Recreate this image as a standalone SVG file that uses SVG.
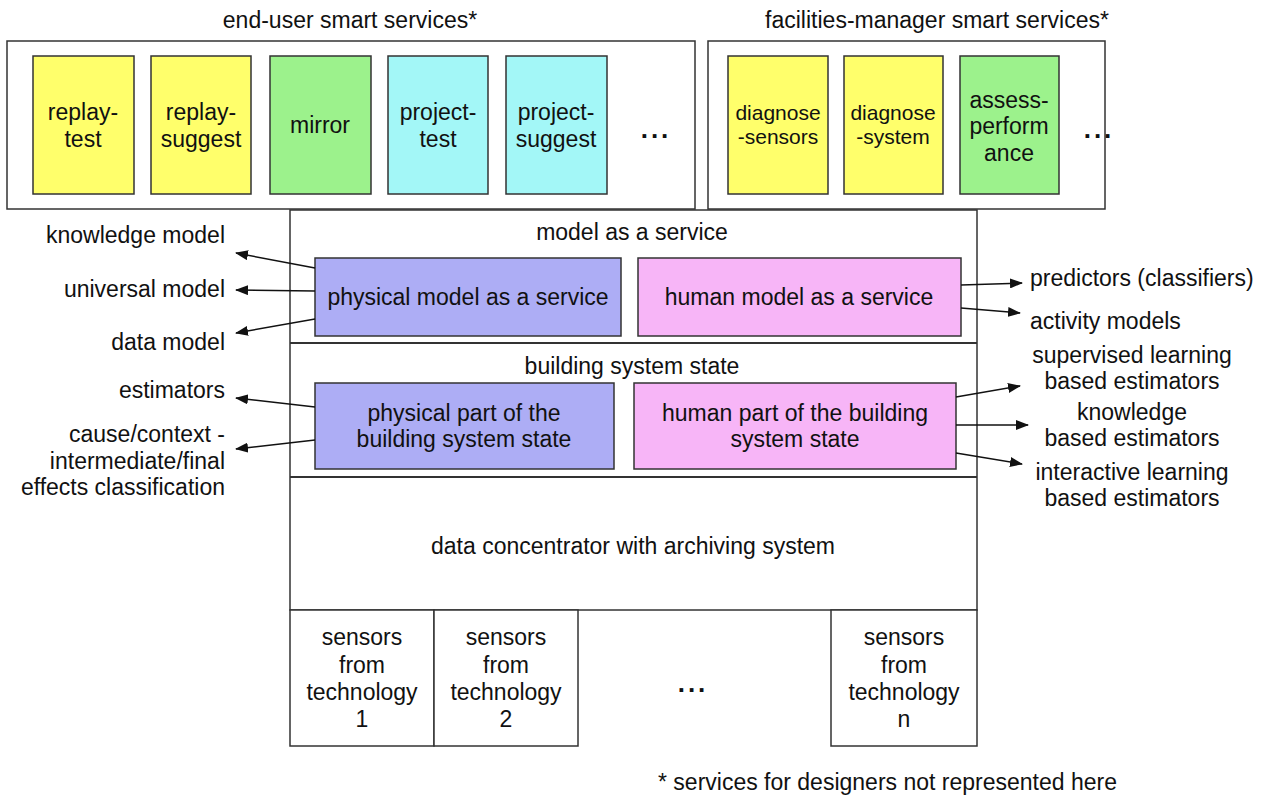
<svg xmlns="http://www.w3.org/2000/svg" width="1270" height="797" viewBox="0 0 1270 797">
<defs>
<marker id="ah" viewBox="0 0 13 10" refX="12" refY="5" markerWidth="13" markerHeight="10" markerUnits="userSpaceOnUse" orient="auto">
<path d="M0,0 L13,5 L0,10 z" fill="#111"/>
</marker>
<style>
text{font-family:"Liberation Sans",Arial,Helvetica,sans-serif;font-size:23px;fill:#111}
.c{text-anchor:middle}
.r{text-anchor:end}
.sm{font-size:21px}
.dots{font-size:26px;font-weight:bold;letter-spacing:3px}
.frame{fill:#fff;stroke:#333;stroke-width:1.5}
.svc{stroke:#333;stroke-width:1.5}
.yel{fill:#FFFF6B}
.grn{fill:#9CF28C}
.cyn{fill:#A3F7F7}
.lav{fill:#ADADF5}
.pnk{fill:#F7B5F7}
.conn{stroke:#111;stroke-width:1.5;fill:none;marker-end:url(#ah)}
.div{stroke:#333;stroke-width:2}
</style>
</defs>
<rect width="1270" height="797" fill="#fff"/>

<g id="end-user-services">
<text class="c" x="350" y="28">end-user smart services*</text>
<rect class="frame" x="7" y="41" width="688" height="168"/>
<g id="replay-test"><rect class="svc yel" x="33" y="56" width="101" height="138"/><text class="c" x="83" y="120">replay-</text><text class="c" x="83" y="147">test</text></g>
<g id="replay-suggest"><rect class="svc yel" x="151" y="56" width="100" height="138"/><text class="c" x="201" y="120">replay-</text><text class="c" x="201" y="147">suggest</text></g>
<g id="mirror"><rect class="svc grn" x="270" y="56" width="101" height="138"/><text class="c" x="320" y="133">mirror</text></g>
<g id="project-test"><rect class="svc cyn" x="388" y="56" width="100" height="138"/><text class="c" x="438" y="120">project-</text><text class="c" x="438" y="147">test</text></g>
<g id="project-suggest"><rect class="svc cyn" x="506" y="56" width="101" height="138"/><text class="c" x="556" y="120">project-</text><text class="c" x="556" y="147">suggest</text></g>
<text class="c dots" x="656" y="138">...</text>
</g>

<g id="fm-services">
<text class="c" x="937" y="28">facilities-manager smart services*</text>
<rect class="frame" x="708" y="41" width="397" height="168"/>
<g id="diagnose-sensors"><rect class="svc yel" x="728" y="56" width="100" height="138"/><text class="c sm" x="778" y="120">diagnose</text><text class="c sm" x="778" y="144">-sensors</text></g>
<g id="diagnose-system"><rect class="svc yel" x="844" y="56" width="99" height="138"/><text class="c sm" x="893" y="120">diagnose</text><text class="c sm" x="893" y="144">-system</text></g>
<g id="assess-performance"><rect class="svc grn" x="960" y="56" width="99" height="138"/><text class="c" x="1009" y="108">assess-</text><text class="c" x="1009" y="134">perform</text><text class="c" x="1009" y="161">ance</text></g>
<text class="c dots" x="1099" y="138">...</text>
</g>

<g id="stack">
<rect class="frame" x="290" y="210" width="687" height="400"/>
<line class="div" x1="290" y1="343" x2="977" y2="343"/>
<line class="div" x1="290" y1="477" x2="977" y2="477"/>
</g>

<g id="model-as-a-service">
<text class="c" x="632" y="240">model as a service</text>
<g id="physical-model"><rect class="svc lav" x="315" y="258" width="306" height="78"/><text class="c" x="468" y="305">physical model as a service</text></g>
<g id="human-model"><rect class="svc pnk" x="638" y="258" width="323" height="78"/><text class="c" x="799" y="305">human model as a service</text></g>
</g>

<g id="building-system-state">
<text class="c" x="632" y="374">building system state</text>
<g id="physical-part"><rect class="svc lav" x="315" y="383" width="299" height="86"/><text class="c" x="464" y="421">physical part of the</text><text class="c" x="464" y="447">building system state</text></g>
<g id="human-part"><rect class="svc pnk" x="634" y="383" width="322" height="86"/><text class="c" x="795" y="421">human part of the building</text><text class="c" x="795" y="447">system state</text></g>
</g>

<g id="data-concentrator">
<text class="c" x="633" y="554">data concentrator with archiving system</text>
</g>

<g id="sensors">
<g id="sensors-1"><rect class="frame" x="290" y="610" width="144" height="136"/><text class="c" x="362" y="645">sensors</text><text class="c" x="362" y="673">from</text><text class="c" x="362" y="700">technology</text><text class="c" x="362" y="727">1</text></g>
<g id="sensors-2"><rect class="frame" x="434" y="610" width="144" height="136"/><text class="c" x="506" y="645">sensors</text><text class="c" x="506" y="673">from</text><text class="c" x="506" y="700">technology</text><text class="c" x="506" y="727">2</text></g>
<text class="c dots" x="693" y="692">...</text>
<g id="sensors-n"><rect class="frame" x="831" y="610" width="146" height="136"/><text class="c" x="904" y="645">sensors</text><text class="c" x="904" y="673">from</text><text class="c" x="904" y="700">technology</text><text class="c" x="904" y="727">n</text></g>
</g>

<g id="left-labels">
<text class="r" x="225" y="243">knowledge model</text>
<text class="r" x="225" y="297">universal model</text>
<text class="r" x="225" y="350">data model</text>
<text class="r" x="225" y="398">estimators</text>
<text class="r" x="225" y="442">cause/context -</text>
<text class="r" x="225" y="469">intermediate/final</text>
<text class="r" x="225" y="495">effects classification</text>
</g>

<g id="right-labels">
<text x="1030" y="286">predictors (classifiers)</text>
<text x="1030" y="329">activity models</text>
<text class="c" x="1132" y="363">supervised learning</text>
<text class="c" x="1132" y="389">based estimators</text>
<text class="c" x="1132" y="420">knowledge</text>
<text class="c" x="1132" y="446">based estimators</text>
<text class="c" x="1132" y="480">interactive learning</text>
<text class="c" x="1132" y="506">based estimators</text>
</g>

<g id="connectors">
<line class="conn" x1="315" y1="268" x2="236" y2="253"/>
<line class="conn" x1="315" y1="291" x2="236" y2="290"/>
<line class="conn" x1="315" y1="319" x2="236" y2="333"/>
<line class="conn" x1="315" y1="407" x2="236" y2="398"/>
<line class="conn" x1="315" y1="440" x2="236" y2="449"/>
<line class="conn" x1="961" y1="285" x2="1022" y2="283"/>
<line class="conn" x1="961" y1="308" x2="1020" y2="313"/>
<line class="conn" x1="956" y1="397" x2="1020" y2="386"/>
<line class="conn" x1="956" y1="425" x2="1028" y2="425"/>
<line class="conn" x1="956" y1="453" x2="1022" y2="464"/>
</g>

<text x="658" y="790">* services for designers not represented here</text>
</svg>
